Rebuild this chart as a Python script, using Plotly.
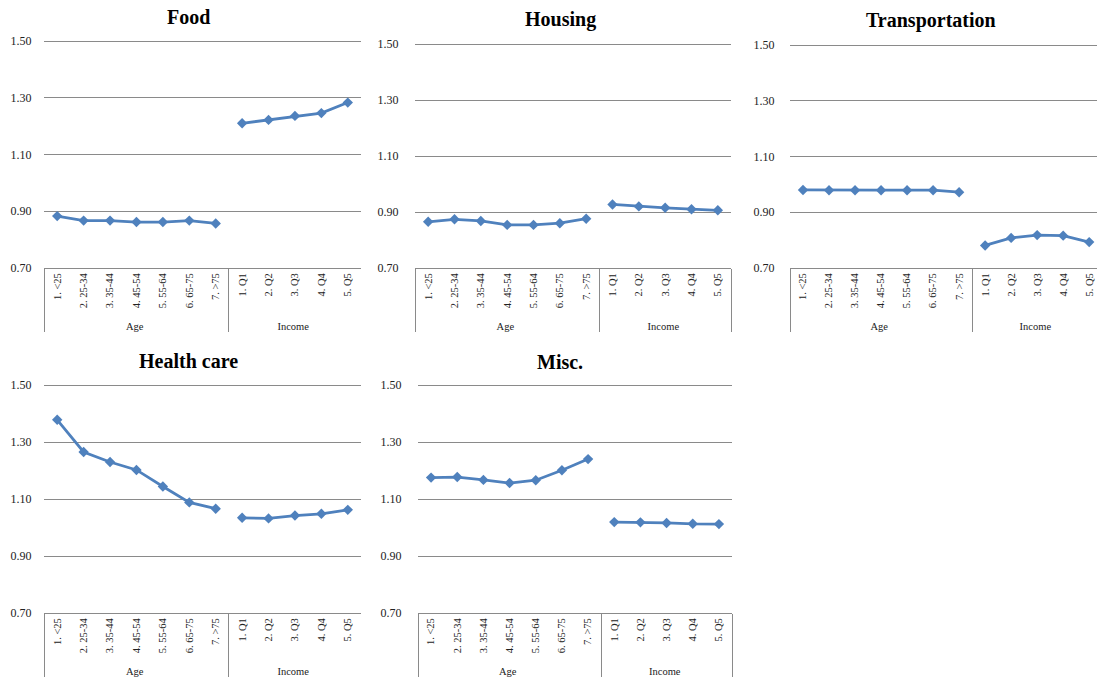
import plotly.graph_objects as go

# Category labels
age_labels = ["1. <25", "2. 25-34", "3. 35-44", "4. 45-54", "5. 55-64", "6. 65-75", "7. >75"]
income_labels = ["1. Q1", "2. Q2", "3. Q3", "4. Q4", "5. Q5"]

# Index values by panel
food_age = [0.883, 0.867, 0.867, 0.862, 0.862, 0.867, 0.857]
food_income = [1.210, 1.222, 1.236, 1.246, 1.283]

housing_age = [0.865, 0.874, 0.868, 0.854, 0.854, 0.860, 0.876]
housing_income = [0.927, 0.920, 0.915, 0.910, 0.906]

transport_age = [0.980, 0.979, 0.979, 0.979, 0.979, 0.979, 0.972]
transport_income = [0.781, 0.808, 0.818, 0.816, 0.793]

health_age = [1.378, 1.265, 1.230, 1.202, 1.144, 1.088, 1.066]
health_income = [1.034, 1.032, 1.042, 1.048, 1.062]

misc_age = [1.175, 1.177, 1.167, 1.156, 1.166, 1.201, 1.240]
misc_income = [1.019, 1.018, 1.016, 1.013, 1.012]

panel_titles = ["Food", "Housing", "Transportation", "Health care", "Misc."]

W, H = 1097, 680
LINE = "#4F81BD"
GRID = "#8A8A8A"
SERIF = "Liberation Serif, Times New Roman, serif"
Y_MIN, Y_TOP_TICK, Y_MAX = 0.70, 1.50, 1.52  # a little headroom so the 1.50 gridline is drawn

panels = [
    # (title, age, income, box left/right/px of 1.50 line/px of 0.70 line, title centre x/y, ylabel gap, x range max)
    (panel_titles[0], food_age, food_income, (44, 361, 41, 268), (188, 17), 9, None),
    (panel_titles[1], housing_age, housing_income, (415, 731, 44, 268), (560, 19), 13, None),
    (panel_titles[2], transport_age, transport_income, (790, 1097, 45, 268), (931, 20), 12, 11.3),
    (panel_titles[3], health_age, health_income, (44, 361, 385, 613), (188, 361), 9, None),
    (panel_titles[4], misc_age, misc_income, (418, 732, 385, 613), (560, 362), 13, None),
]

fig = go.Figure()
layout = {}
annotations = []

for i, (title, age, inc, box, tpos, gap, xmax) in enumerate(panels, start=1):
    suffix = "" if i == 1 else str(i)
    xa, ya = "x" + suffix, "y" + suffix
    for grp, labels, vals in (("Age", age_labels, age), ("Income", income_labels, inc)):
        fig.add_trace(go.Scatter(
            x=[[grp] * len(labels), labels], y=vals,
            mode="lines+markers", xaxis=xa, yaxis=ya,
            line=dict(color=LINE, width=2.75),
            marker=dict(symbol="diamond", size=8, color=LINE),
            showlegend=False, hoverinfo="y"))

    l, r, t, b = box
    px_per_unit = (b - t) / (Y_TOP_TICK - Y_MIN)
    top_px = t - (Y_MAX - Y_TOP_TICK) * px_per_unit
    xrange = [-0.5, xmax if xmax is not None else 11.5]
    layout["xaxis" + suffix] = dict(
        type="multicategory", domain=[l / W, min(r / W, 1.0)], anchor=ya,
        range=xrange, showgrid=False, zeroline=False, automargin=False,
        showline=True, linecolor=GRID, linewidth=1,
        ticks="", showdividers=True, dividercolor=GRID, dividerwidth=1,
        tickangle=-90, tickfont=dict(family=SERIF, size=10.5, color="#222222"),
    )
    layout["yaxis" + suffix] = dict(
        domain=[1 - b / H, 1 - top_px / H], anchor=xa, automargin=False,
        range=[Y_MIN, Y_MAX], tick0=Y_MIN, dtick=0.20, tickformat=".2f",
        showgrid=True, gridcolor=GRID, gridwidth=1, zeroline=False,
        showline=False, ticks="outside", ticklen=gap, tickcolor="rgba(0,0,0,0)",
        tickfont=dict(family=SERIF, size=12, color="#222222"),
    )
    annotations.append(dict(
        text="<b>" + title + "</b>", x=tpos[0] / W, y=1 - tpos[1] / H,
        xref="paper", yref="paper", xanchor="center", yanchor="middle",
        showarrow=False, font=dict(family=SERIF, size=20, color="black")))

fig.update_layout(
    width=W, height=H,
    margin=dict(l=0, r=0, t=0, b=0, autoexpand=False),
    paper_bgcolor="white", plot_bgcolor="white",
    annotations=annotations,
    **layout,
)

fig.write_html("out.html")
